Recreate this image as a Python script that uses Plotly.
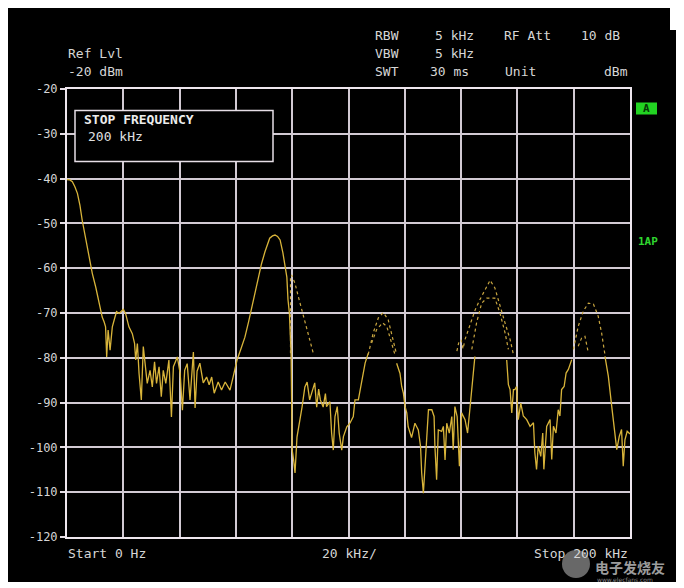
import plotly.graph_objects as go

# ---------------- data (kHz, dBm) ----------------
freq_khz = [0, 1.0, 1.9, 2.8, 3.7, 4.6, 5.4, 6.3, 7.2, 8.1, 9.0, 10.2, 11.4, 12.5, 13.2, 13.7, 14.1, 14.6,
            15.3, 16.1, 17.0, 17.6, 18.5, 19.4, 20.0, 20.8, 22.0, 23.2, 24.0, 24.4, 25.0, 25.6, 26.4, 27.1,
            27.9, 28.5, 29.5, 30.3, 31.1, 31.8, 32.7, 33.5, 34.2, 35.1, 36.2, 37.1, 37.8, 39.2, 40.2, 41.0,
            41.8, 42.7, 43.7, 44.9, 45.5, 46.2, 47.2, 48.4, 49.6, 50.5, 51.4, 52.3, 53.7, 54.9, 56.2, 57.9,
            59.0, 60.4, 61.8, 63.2, 64.5, 65.7, 66.8, 67.9, 69.1, 70.3, 71.2, 72.0, 73.0, 73.9, 74.8, 75.7,
            76.7, 77.4, 78.1, 78.5, 79.0, 79.6, 80.0, 80.5, 81.0, 81.7, 82.8, 83.5, 84.5, 85.3, 86.2, 87.0,
            88.0, 88.7, 89.4, 90.0, 91.0, 91.8, 92.2, 93.4, 94.0, 94.6, 95.2, 96.0, 96.7, 97.6, 98.2, 99.4,
            100.5, 101.7, 102.3, 103.5, 104.7, 105.9, 107.0,
            None,
            117.1, 118.3, 118.9, 119.5, 120.1, 120.7, 121.2, 122.4, 123.6, 124.8, 125.6, 126.0, 126.6, 127.5,
            128.4, 129.6, 130.4, 130.7, 131.3, 131.9, 133.1, 133.7, 134.3, 134.9, 135.8, 136.7, 137.2, 137.8,
            138.6, 139.4, 140.2, 141.4, 142.3, 143.2, 143.8, 144.3, 144.9,
            None,
            156.2, 156.8, 157.4, 158.0, 158.6, 159.1, 159.7, 160.3, 161.2, 162.1, 163.3, 164.5, 165.7, 166.2,
            166.8, 167.4, 168.3, 169.0, 169.4, 170.4, 171.6, 172.2, 172.8, 173.7, 174.5, 175.1, 175.7, 176.6,
            177.3, 178.1, 179.3,
            None,
            191.1, 192.3, 193.5, 194.7, 195.3, 196.2, 197.0, 197.6, 198.2, 199.0, 199.8, 200.0]

level_dbm = [-40.2, -40.3, -40.7, -41.8, -43.3, -46.0, -49.3, -52.3, -55.2, -58.3, -61.2, -64.2, -67.9, -70.9,
             -72.0, -73.1, -79.8, -73.8, -78.3, -73.1, -71.0, -69.7, -70.1, -69.5, -69.2, -70.1, -73.1, -74.6,
             -76.8, -80.5, -76.8, -83.5, -89.4, -77.5, -82.0, -85.7, -82.8, -86.5, -80.9, -85.7, -82.0, -88.7,
             -82.8, -85.7, -80.5, -93.2, -82.0, -79.8, -83.5, -91.7, -82.8, -81.3, -89.4, -78.7, -91.2, -83.0,
             -81.2, -85.6, -84.3, -86.0, -84.3, -87.9, -85.4, -87.2, -85.4, -87.2, -84.3, -80.5, -78.0, -75.4,
             -72.0, -68.7, -65.3, -62.0, -59.0, -56.4, -54.5, -53.3, -52.8, -52.6, -52.9, -53.7, -56.6, -59.5,
             -62.0, -67.0, -70.0, -79.0, -100.6, -102.8, -105.7, -97.7, -93.9, -91.0, -86.5, -85.4, -89.4, -87.9,
             -85.6, -91.0, -87.0, -89.4, -91.0, -88.0, -90.9, -89.8, -96.8, -100.6, -93.1, -90.9, -96.8, -100.6,
             -97.6, -95.4, -94.6, -93.1, -89.4, -89.4, -85.0, -81.2, -79.0,
             None,
             -81.2, -83.5, -86.4, -87.9, -90.9, -92.3, -95.4, -97.8, -94.6, -96.1, -99.8, -105.7, -110.2, -100.5,
             -91.6, -91.6, -93.1, -99.8, -107.2, -96.1, -96.4, -95.3, -102.8, -94.6, -96.8, -93.1, -100.5, -90.9,
             -93.1, -104.2, -92.3, -93.8, -96.8, -90.9, -86.4, -82.7, -79.7,
             None,
             -80.5, -86.0, -87.1, -92.3, -87.1, -87.1, -86.4, -93.8, -90.1, -93.0, -93.8, -95.3, -94.5, -101.2,
             -104.9, -99.7, -102.0, -96.8, -104.9, -95.3, -93.8, -102.7, -95.3, -96.8, -91.6, -93.0, -87.1, -86.4,
             -83.4, -82.6, -80.4,
             None,
             -79.7, -84.1, -90.8, -96.8, -100.5, -97.5, -96.0, -104.2, -98.3, -96.4, -96.8, -97.0]

# dotted (second trace) segments
dot80_khz = [79.4, 79.4, 79.8, 81.0, 82.2, 83.4, 84.5, 85.7, 87.5]
dot80_dbm = [-79.0, -62.0, -61.5, -63.4, -66.4, -69.3, -72.3, -75.3, -79.0]

pk112_up_khz = [107.0, 108.8, 110.6, 112.4, 114.1, 115.9, 117.1]
pk112_up_dbm = [-79.3, -74.4, -71.1, -69.9, -71.5, -75.9, -79.3]
pk112_lo_khz = [108.2, 110.0, 112.1, 113.6, 115.3, 116.5]
pk112_lo_dbm = [-76.7, -73.7, -72.2, -73.0, -76.7, -79.3]

pk150_up_khz = [141.4, 142.6, 143.8, 145.0, 146.7, 148.5, 150.3, 152.0, 153.8, 155.6, 157.4, 158.6]
pk150_up_dbm = [-75.9, -73.7, -71.5, -69.3, -67.0, -64.8, -62.7, -64.4, -68.5, -72.2, -75.9, -79.3]
pk150_lo_khz = [143.8, 145.5, 147.3, 149.1, 152.0, 153.8, 155.6, 156.8]
pk150_lo_dbm = [-78.1, -72.2, -67.8, -66.7, -66.7, -70.0, -74.4, -78.1]
cl150_khz = [138.5, 139.2, 140.0, 140.7, 141.2]
cl150_dbm = [-78.5, -76.5, -76.0, -78.0, -76.5]

pk186_up_khz = [179.9, 181.6, 183.4, 185.2, 187.0, 188.7, 189.9, 191.1]
pk186_up_dbm = [-78.1, -73.0, -69.6, -67.8, -68.0, -70.7, -74.4, -79.3]
pk186_lo_khz = [181.6, 182.8, 184.0, 185.2]
pk186_lo_dbm = [-77.4, -75.6, -75.2, -78.9]

y_ticks = [-20, -30, -40, -50, -60, -70, -80, -90, -100, -110, -120]
y_tick_labels = ["-20", "-30", "-40", "-50", "-60", "-70", "-80", "-90", "-100", "-110", "-120"]
x_ticks = [0, 20, 40, 60, 80, 100, 120, 140, 160, 180, 200]

# ---------------- layout geometry (page pixels; the page body adds an 8px offset) ----------------
OFF = 8
W, H = 676, 574
L, R, T, B = 67, 630, 89, 537          # plot frame in page pixels
PW, PH = R - L, B - T
MONO = "DejaVu Sans Mono"
TXT = "#d6d6d6"
TRACE = "#d8b43a"


def px(x):
    return (x - L) / PW


def py(y):
    return (B - y) / PH


fig = go.Figure()
fig.add_trace(go.Scatter(x=freq_khz, y=level_dbm, mode="lines", connectgaps=False,
                         line=dict(color=TRACE, width=1.3), hoverinfo="skip", showlegend=False))
for xs, ys in [(dot80_khz, dot80_dbm), (pk112_up_khz, pk112_up_dbm), (pk112_lo_khz, pk112_lo_dbm),
               (pk150_up_khz, pk150_up_dbm), (pk150_lo_khz, pk150_lo_dbm), (cl150_khz, cl150_dbm),
               (pk186_up_khz, pk186_up_dbm), (pk186_lo_khz, pk186_lo_dbm)]:
    fig.add_trace(go.Scatter(x=xs, y=ys, mode="lines", line=dict(color="#c9a640", width=1.2, dash="dot"),
                             hoverinfo="skip", showlegend=False))

shapes = [
    # white notch at top right of the screen grab
    dict(type="rect", xref="paper", yref="paper", x0=px(670), x1=px(690), y0=py(30), y1=py(0),
         fillcolor="white", line=dict(width=0), layer="below"),
    # marker info box
    dict(type="rect", xref="paper", yref="paper", x0=px(75), x1=px(273), y0=py(161.5), y1=py(110.5),
         fillcolor="black", line=dict(color="#e6dee6", width=1.5), layer="above"),
    # green "A" box
    dict(type="rect", xref="paper", yref="paper", x0=px(636), x1=px(657), y0=py(114.5), y1=py(102.5),
         fillcolor="#22d322", line=dict(width=0), layer="above"),
    # watermark logo
    dict(type="circle", xref="paper", yref="paper", x0=px(562), x1=px(590), y0=py(578), y1=py(550),
         fillcolor="rgba(190,190,190,0.55)", line=dict(width=0), layer="above"),
]

annotations = []


def ann(text, x, y, anchor="left", size=13, color=TXT, family=MONO):
    annotations.append(dict(text=text, x=px(x), y=py(y), xref="paper", yref="paper", xanchor=anchor,
                            yanchor="middle", showarrow=False, font=dict(family=family, size=size, color=color)))


ann("Ref Lvl", 66, 53)
ann("-20 dBm", 66, 72)
ann("RBW", 373, 35)
ann("5 kHz", 476, 35, "right")
ann("RF Att", 502, 35)
ann("10 dB", 622, 35, "right")
ann("VBW", 373, 53)
ann("5 kHz", 476, 53, "right")
ann("SWT", 373, 72)
ann("30 ms", 428, 72)
ann("Unit", 503, 72)
ann("dBm", 630, 72, "right")
ann("Start 0 Hz", 66, 553)
ann("20 kHz/", 350, 553, "center")
ann("Stop 200 kHz", 630, 553, "right")
ann("<b>STOP FREQUENCY</b>", 82, 119, size=13, color="#ececec")
ann("200 kHz", 86, 136, size=13, color="#e0e0e0")
ann("<b>A</b>", 646.5, 108.5, "center", size=11, color="#063806")
ann("<b>1AP</b>", 636, 241, size=11, color="#2fd62f")
ann("<b>电子发烧友</b>", 593, 567, size=14, color="#9c9c9c", family="Noto Sans CJK SC")
ann("www.elecfans.com", 595, 579, size=6, color="#8a8a8a", family="DejaVu Sans")

fig.update_layout(
    width=W, height=H,
    margin=dict(l=L - OFF, r=W - (R - OFF), t=T - OFF, b=H - (B - OFF), pad=0),
    paper_bgcolor="black", plot_bgcolor="black",
    shapes=shapes, annotations=annotations, showlegend=False,
    xaxis=dict(range=[0, 200], tickvals=x_ticks, showticklabels=False, ticks="",
               showgrid=True, gridcolor="#d2cad3", gridwidth=1.5, zeroline=False,
               showline=True, linecolor="#eee6ee", linewidth=2, mirror=True, fixedrange=True),
    yaxis=dict(range=[-120, -20], tickvals=y_ticks, ticktext=y_tick_labels, ticks="outside",
               ticklen=5, tickcolor="#e6dee6", tickwidth=1.5,
               tickfont=dict(family=MONO, size=12, color=TXT),
               showgrid=True, gridcolor="#d2cad3", gridwidth=1.5, zeroline=False,
               showline=True, linecolor="#eee6ee", linewidth=2, mirror=True, fixedrange=True),
)

fig.write_html("out.html")
